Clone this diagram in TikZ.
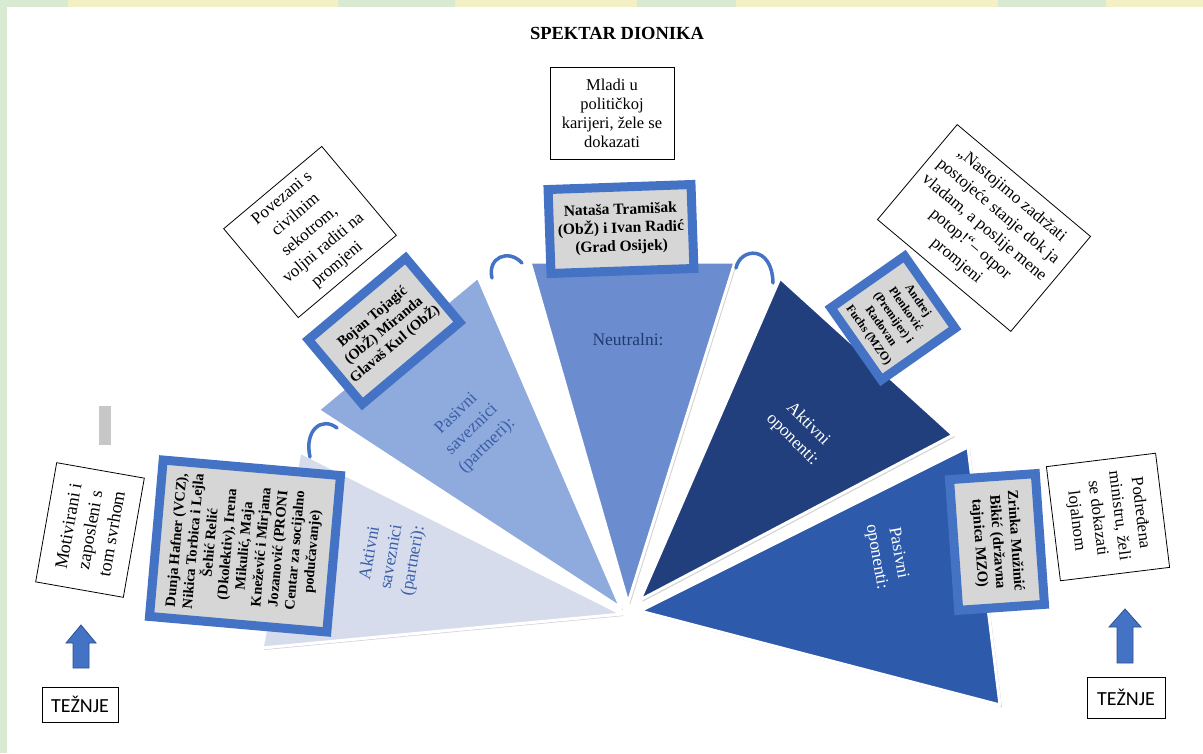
\documentclass[tikz,border=0pt]{standalone}
\usepackage{fontspec}
\setmainfont{Liberation Serif}
\newfontfamily\calibrifont{Carlito}
\usetikzlibrary{shadows}

\definecolor{frameblue}{HTML}{4472C4}
\definecolor{arrowline}{HTML}{2F528F}
\definecolor{boxgray}{HTML}{D6D6D6}
\definecolor{wedgeA}{HTML}{D6DCEC}
\definecolor{wedgeB}{HTML}{8FAADC}
\definecolor{wedgeC}{HTML}{6B8DD0}
\definecolor{wedgeD}{HTML}{203F7C}
\definecolor{wedgeE}{HTML}{2E5AAC}
\definecolor{labelblue}{HTML}{3A5FA8}
\definecolor{darklabel}{HTML}{1F3A70}
\definecolor{stripgreen}{HTML}{D9EAD3}
\definecolor{stripyellow}{HTML}{F3F0C6}

\tikzset{
  note/.style={draw=black, line width=0.8pt, fill=white, align=center, inner sep=2pt,
    font=\fontsize{17}{21.5}\selectfont},
  namebox/.style={draw=frameblue, line width=9pt, fill=boxgray, align=center, inner sep=1pt,
    font=\bfseries\fontsize{14.5}{17.5}\selectfont},
  wedge/.style={draw=white, line width=3pt, line join=round,
    drop shadow={shadow xshift=2pt, shadow yshift=-2pt, opacity=0.35}},
  curl/.style={draw=frameblue, line width=3.5pt, line cap=round},
  wlabel/.style={align=center, font=\fontsize{17.5}{22}\selectfont},
  tezbox/.style={draw=black, line width=0.8pt, minimum width=76pt, minimum height=35pt,
    font=\calibrifont\fontsize{20}{22}\selectfont},
  blockarrow/.style={fill=frameblue, draw=arrowline, line width=0.8pt}
}

\begin{document}
\begin{tikzpicture}[x=1pt, y=-1pt]

	\useasboundingbox (0,0) rectangle (1203,753);
	\fill[white] (0,0) rectangle (1203,753);
	
	% page border
	\fill[stripgreen] (0,0) rectangle (7,753);
	\foreach \a/\b/\c in {0/68/stripgreen, 68/338/stripyellow, 338/455/stripgreen,
	  455/637/stripyellow, 637/736/stripgreen, 736/998/stripyellow,
	  998/1106/stripgreen, 1106/1203/stripyellow}
	  \fill[\c] (\a,0) rectangle (\b,7);
	
	\node[font=\bfseries\fontsize{18.5}{20}\selectfont] (title) at (617,33) {SPEKTAR DIONIKA};
	
	% fan
	\coordinate (apexA) at (622,614);
	\coordinate (apexB) at (621,608);
	\coordinate (apexC) at (628,603);
	\coordinate (apexD) at (640,600);
	\coordinate (apexE) at (640,611);
	\path[wedge, fill=wedgeA] (apexA) -- (262,648) -- (300,452) -- cycle;
	\path[wedge, fill=wedgeB] (apexB) -- (318,410) -- (478,277) -- cycle;
	\path[wedge, fill=wedgeC] (apexC) -- (530,262) -- (735,262) -- cycle;
	\path[wedge, fill=wedgeD] (apexD) -- (780,278) -- (953,435) -- cycle;
	\path[wedge, fill=wedgeE] (apexE) -- (968,447) -- (1000,705) -- cycle;
	
	\draw[curl] (310,457) .. controls (304,430) and (322,416) .. (337,428);
	\draw[curl] (492,278) .. controls (487,258) and (508,248) .. (522,263);
	\draw[curl] (736,268) .. controls (740,248) and (772,244) .. (773,283);
	
	\node[wlabel, text=labelblue, rotate=80] (labA) at (392,557) {Aktivni\\saveznici\\(partneri):};
	\node[wlabel, text=labelblue, rotate=44] (labB) at (472,430) {Pasivni\\saveznici\\(partneri):};
	\node[wlabel, text=darklabel] (labC) at (628,340) {Neutralni:};
	\node[wlabel, text=white, rotate=-45] (labD) at (800,432) {Aktivni\\oponenti:};
	\node[wlabel, text=white, rotate=-80] (labE) at (887,555) {Pasivni\\oponenti:};
	
	% stakeholders
	\node[namebox, rotate=85, minimum width=157pt, minimum height=178pt,
	  font=\bfseries\fontsize{14.5}{17}\selectfont] (allies) at (245,546)
	  {Dunja Hafner (VCZ),\\Nikica Torbica i Lejla\\Šehić Relić\\(Dkolektiv), Irena\\Mikulić, Maja\\Knežević i Mirjana\\Jozanović (PRONI\\Centar za socijalno\\podučavanje)};
	\node[namebox, rotate=40, minimum width=127pt, minimum height=84pt] (partners) at (384,331)
	  {Bojan Tojagić\\(ObŽ) Miranda\\Glavaš Kul (ObŽ)};
	\node[namebox, rotate=2, minimum width=143pt, minimum height=84pt,
	  font=\bfseries\fontsize{15.5}{18.5}\selectfont] (neutral) at (621,229)
	  {Nataša Tramišak\\(ObŽ) i Ivan Radić\\(Grad Osijek)};
	\node[namebox, rotate=-55, minimum width=88pt, minimum height=90pt,
	  font=\bfseries\fontsize{12}{15}\selectfont] (opponents) at (893,318)
	  {Andrej\\Plenković\\(Premijer) i\\Radovan\\Fuchs (MZO)};
	\node[namebox, rotate=-86, minimum width=131pt, minimum height=86pt,
	  font=\bfseries\fontsize{15}{18}\selectfont] (passive) at (997,542)
	  {Zrinka Mužinić\\Bikić (državna\\tajnica MZO)};
	
	% motives
	\node[note, rotate=40, minimum width=128pt, minimum height=116pt] (civil) at (310,232)
	  {Povezani s\\civilnim\\sekotrom,\\voljni raditi na\\promjeni};
	\node[note, minimum width=124pt, minimum height=92pt,
	  font=\fontsize{16.5}{19}\selectfont] (young) at (612,113)
	  {Mladi u\\političkoj\\karijeri, žele se\\dokazati};
	\node[note, rotate=-40, minimum width=174pt, minimum height=124pt] (quote) at (984,228)
	  {„Nastojimo zadržati\\postojeće stanje dok ja\\vladam, a poslije mene\\potop!“– otpor\\promjeni};
	\node[note, rotate=80, minimum width=121pt, minimum height=89pt,
	  font=\fontsize{18}{22}\selectfont] (motiv) at (90,530)
	  {Motivirani i\\zaposleni s\\tom svrhom};
	\node[note, rotate=-83, minimum width=115pt, minimum height=110pt] (loyal) at (1108,517)
	  {Podređena\\ministru, želi\\se dokazati\\lojalnom};
	
	\fill[black!22] (99,406) rectangle (111,445);
	
	% aims
	\node[tezbox] (aimL) at (80,704.5) {TEŽNJE};
	\node[tezbox, minimum width=78pt, minimum height=41pt] (aimR) at (1126,697.5) {TEŽNJE};
	\path[blockarrow] (73,668) -- (73,643) -- (66,643) -- (81,625) -- (96,643) -- (89,643) -- (89,668) -- cycle;
	\path[blockarrow] (1117,663) -- (1117,627) -- (1109,627) -- (1125,609) -- (1141,627) -- (1133,627) -- (1133,663) -- cycle;

\end{tikzpicture}
\end{document}
